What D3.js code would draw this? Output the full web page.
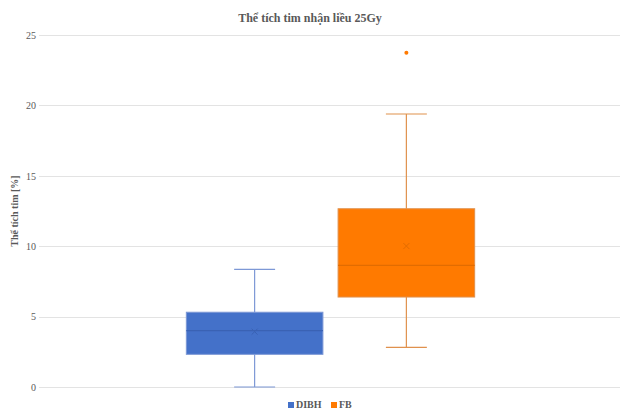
<!DOCTYPE html>
<html>
<head>
<meta charset="utf-8">
<script src="https://cdn.jsdelivr.net/npm/d3@7"></script>
<style>
  html, body { margin: 0; padding: 0; background: #fff; }
  svg { display: block; }
</style>
</head>
<body>
<div id="chart"></div>
<script>
// Box-plot summary for each group: heart volume receiving 25 Gy [%]
const category = [""];
const series = ["DIBH", "FB"];
const seriesColors = ["#4471C9", "#FF7A00"];
const medianColors = ["#3A62B4", "#E26C00"];
const whiskerColors = ["#7D98D6", "#E0914D"];
const whiskerMin = [0.0, 2.82];
const q1 = [2.32, 6.39];
const median = [4.0, 8.64];
const q3 = [5.31, 12.66];
const whiskerMax = [8.36, 19.39];
const mean = [3.93, 10.01];
const outliers = [[], [23.74]];
const yTicks = [0, 5, 10, 15, 20, 25];

const title = "Thể tích tim nhận liều 25Gy";
const yTitle = "Thể tích tim [%]";

const W = 620, H = 409;
const plot = { left: 39, right: 622, top: 35, bottom: 387 };

const svg = d3.select("#chart").append("svg")
  .attr("width", W).attr("height", H);

const y = d3.scaleLinear().domain([0, 25]).range([plot.bottom, plot.top]);

const x0 = d3.scaleBand().domain(category)
  .range([plot.left, plot.right]).paddingInner(0).paddingOuter(0.511);
const x1 = d3.scaleBand().domain(series)
  .range([0, x0.bandwidth()]).paddingInner(0.1).paddingOuter(0);

const serif = "'Liberation Serif', 'DejaVu Serif', serif";

// Gridlines and tick labels
const yAxis = d3.axisLeft(y).tickValues(yTicks)
  .tickSize(-(W - plot.left)).tickPadding(3);
const gy = svg.append("g").attr("transform", `translate(${plot.left},0)`).call(yAxis);
gy.select(".domain").remove();
gy.selectAll(".tick line").attr("stroke", "#E3E3E3").attr("stroke-width", 1)
  .attr("shape-rendering", "crispEdges");
gy.selectAll(".tick text")
  .attr("fill", "#595959")
  .style("font-family", serif)
  .style("font-size", "10px");

// Title
svg.append("text")
  .attr("x", 310).attr("y", 22)
  .attr("text-anchor", "middle")
  .style("font-family", serif).style("font-weight", "bold")
  .style("font-size", "12px").attr("fill", "#595959")
  .text(title);

// Y-axis title
svg.append("text")
  .attr("transform", `translate(18,${(plot.top + plot.bottom) / 2}) rotate(-90)`)
  .attr("text-anchor", "middle")
  .style("font-family", serif).style("font-weight", "bold")
  .style("font-size", "10px").attr("fill", "#595959")
  .text(yTitle);

// Boxes
const groups = svg.append("g").attr("transform", `translate(${x0(category[0])},0)`);
series.forEach((s, i) => {
  const bx = x1(s), bw = x1.bandwidth(), cx = bx + bw / 2;
  const capW = bw * 0.3;
  const g = groups.append("g");

  // whiskers
  g.append("line").attr("x1", cx).attr("x2", cx)
    .attr("y1", y(whiskerMax[i])).attr("y2", y(q3[i]))
    .attr("stroke", whiskerColors[i]).attr("stroke-width", 1.2);
  g.append("line").attr("x1", cx).attr("x2", cx)
    .attr("y1", y(q1[i])).attr("y2", y(whiskerMin[i]))
    .attr("stroke", whiskerColors[i]).attr("stroke-width", 1.2);
  [whiskerMax[i], whiskerMin[i]].forEach(v => {
    g.append("line").attr("x1", cx - capW / 2).attr("x2", cx + capW / 2)
      .attr("y1", y(v)).attr("y2", y(v))
      .attr("stroke", whiskerColors[i]).attr("stroke-width", 1.2);
  });

  // box
  g.append("rect").attr("x", bx).attr("width", bw)
    .attr("y", y(q3[i])).attr("height", y(q1[i]) - y(q3[i]))
    .attr("fill", seriesColors[i])
    .attr("stroke", whiskerColors[i]).attr("stroke-width", 1);

  // median
  g.append("line").attr("x1", bx).attr("x2", bx + bw)
    .attr("y1", y(median[i])).attr("y2", y(median[i]))
    .attr("stroke", medianColors[i]).attr("stroke-width", 1.2);

  // mean marker
  const my = y(mean[i]), m = 3;
  g.append("path")
    .attr("d", `M${cx - m},${my - m}L${cx + m},${my + m}M${cx - m},${my + m}L${cx + m},${my - m}`)
    .attr("stroke", medianColors[i]).attr("stroke-width", 1).attr("fill", "none");

  // outliers
  outliers[i].forEach(v => {
    g.append("circle").attr("cx", cx).attr("cy", y(v)).attr("r", 2)
      .attr("fill", seriesColors[i]);
  });
});

// Legend
const legend = svg.append("g");
const legendX = [288, 331];
series.forEach((s, i) => {
  legend.append("rect").attr("x", legendX[i]).attr("y", 402)
    .attr("width", 6).attr("height", 6).attr("fill", seriesColors[i]);
  legend.append("text").attr("x", legendX[i] + 8).attr("y", 408)
    .style("font-family", serif).style("font-weight", "bold")
    .style("font-size", "10px").attr("fill", "#595959")
    .text(s);
});
</script>
</body>
</html>
